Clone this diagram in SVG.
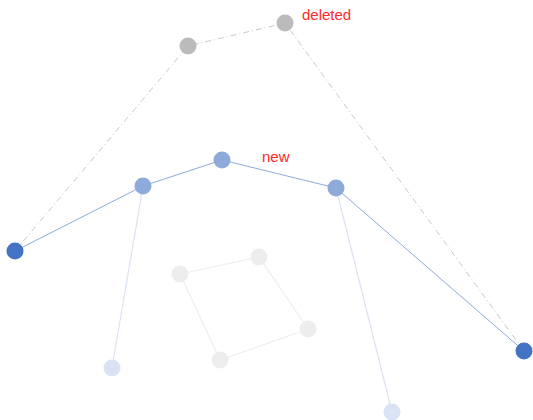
<svg xmlns="http://www.w3.org/2000/svg" width="533" height="420" viewBox="0 0 533 420">
<style>
.del{fill:none;stroke:#c8c8c8;stroke-width:1;stroke-dasharray:6 3 1 3}
.new{fill:none;stroke:#8eaadb;stroke-width:1}
.lt{fill:none;stroke:#dae3f3;stroke-width:1.2}
.gr{fill:none;stroke:#eeeeee;stroke-width:1.2}
.nd{fill:#bbbbbb}
.nm{fill:#8eaadb}
.nb{fill:#4472c4}
.nl{fill:#dae3f3}
.ng{fill:#ededed}
.lbl{font-family:"Liberation Sans",Arial,sans-serif;font-size:15px;fill:#ff2a2a}
</style>
<g id="connectors">
<polyline class="del" points="15,251 188,46 285,23 524,351"/>
<polyline class="new" points="15,251 143,186 222,160 336,188 524,351"/>
<line class="lt" x1="143" y1="186" x2="112" y2="368"/>
<line class="lt" x1="336" y1="188" x2="392" y2="412"/>
<polygon class="gr" points="180,274 259,257 308,329 220,360"/>
</g>
<g id="n-sq1"><circle class="ng" cx="180" cy="274" r="8.5"/></g>
<g id="n-sq2"><circle class="ng" cx="259" cy="257" r="8.5"/></g>
<g id="n-sq3"><circle class="ng" cx="308" cy="329" r="8.5"/></g>
<g id="n-sq4"><circle class="ng" cx="220" cy="360" r="8.5"/></g>
<g id="n-f"><circle class="nl" cx="112" cy="368" r="8.5"/></g>
<g id="n-g"><circle class="nl" cx="392" cy="412" r="8.5"/></g>
<g id="n-del1"><circle class="nd" cx="188" cy="46" r="8.5"/></g>
<g id="n-del2"><circle class="nd" cx="285" cy="23" r="8.5"/><text class="lbl" x="302" y="20">deleted</text></g>
<g id="n-a"><circle class="nb" cx="15" cy="251" r="8.5"/></g>
<g id="n-b"><circle class="nm" cx="143" cy="186" r="8.5"/></g>
<g id="n-c"><circle class="nm" cx="222" cy="160" r="8.5"/><text class="lbl" x="262" y="162">new</text></g>
<g id="n-d"><circle class="nm" cx="336" cy="188" r="8.5"/></g>
<g id="n-e"><circle class="nb" cx="524" cy="351" r="8.5"/></g>
</svg>
